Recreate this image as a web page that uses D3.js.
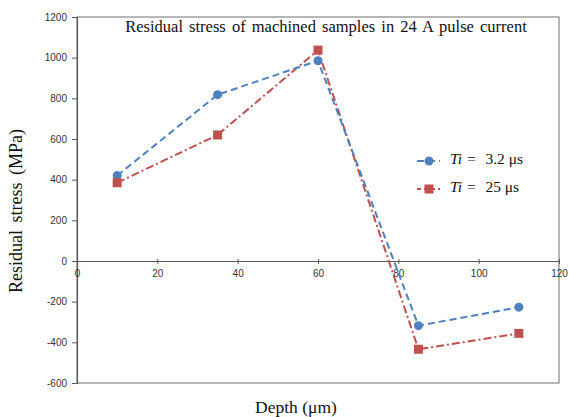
<!DOCTYPE html>
<html><head><meta charset="utf-8">
<script src="https://cdn.jsdelivr.net/npm/d3@7"></script>
<style>body{margin:0;background:#fff;}</style>
</head><body>
<script>
const depth = [10, 35, 60, 85, 110];
const ti32 = [420, 818, 985, -318, -227];
const ti25 = [385, 620, 1037, -434, -356];
const xTicks = [0, 20, 40, 60, 80, 100, 120];
const yTicks = [-600, -400, -200, 0, 200, 400, 600, 800, 1000, 1200];

const W = 569, H = 417;
const m = {l: 77, r: 10, t: 17, b: 34};
const svg = d3.select("body").append("svg").attr("width", W).attr("height", H);
const x = d3.scaleLinear().domain([0, 120]).range([m.l, 559]);
const y = d3.scaleLinear().domain([-600, 1200]).range([383, m.t]);
const fmt = d => String(d);

// plot area border
svg.append("rect").attr("x", x(0)).attr("y", y(1200)).attr("width", x(120) - x(0)).attr("height", y(-600) - y(1200))
  .attr("fill", "none").attr("stroke", "#868686").attr("stroke-width", 1.2);

// y axis
const ya = svg.append("g").attr("transform", `translate(${x(0)},0)`)
  .call(d3.axisLeft(y).tickValues(yTicks).tickSize(5).tickPadding(5).tickFormat(fmt));
ya.select(".domain").attr("stroke", "#595959").attr("stroke-width", 1.2);
ya.selectAll(".tick line").attr("stroke", "#595959");
ya.selectAll("text").attr("font-family", "Liberation Sans, Arial, sans-serif").attr("font-size", 10).attr("fill", "#333");

// x axis at y=0
const xa = svg.append("g").attr("transform", `translate(0,${y(0)})`)
  .call(d3.axisBottom(x).tickValues(xTicks).tickSizeInner(3).tickSizeOuter(0).tickPadding(6).tickFormat(fmt));
xa.select(".domain").attr("stroke", "#595959").attr("stroke-width", 1.2);
xa.selectAll(".tick line").attr("stroke", "#595959").attr("y1", -2).attr("y2", 3);
xa.selectAll("text").attr("font-family", "Liberation Sans, Arial, sans-serif").attr("font-size", 10).attr("fill", "#333");

const blue = "#4F81BD", red = "#C0504D";
const line = d3.line().x(d => x(d[0])).y(d => y(d[1]));
const bData = depth.map((d, i) => [d, ti32[i]]);
const rData = depth.map((d, i) => [d, ti25[i]]);

svg.append("path").datum(rData).attr("d", line).attr("fill", "none").attr("stroke", red)
  .attr("stroke-width", 2).attr("stroke-dasharray", "8,3,2,3");
svg.append("path").datum(bData).attr("d", line).attr("fill", "none").attr("stroke", blue)
  .attr("stroke-width", 2).attr("stroke-dasharray", "7,4");

svg.selectAll(".bm").data(bData).enter().append("circle")
  .attr("cx", d => x(d[0])).attr("cy", d => y(d[1])).attr("r", 4.5).attr("fill", blue);
svg.selectAll(".rm").data(rData).enter().append("rect")
  .attr("x", d => x(d[0]) - 4.5).attr("y", d => y(d[1]) - 4.5).attr("width", 9).attr("height", 9).attr("fill", red);

const serif = "Liberation Serif, Times New Roman, serif";
// title
svg.append("text").attr("x", 326).attr("y", 32).attr("text-anchor", "middle")
  .attr("font-family", serif).attr("font-size", 16.5).attr("fill", "#111")
  .style("word-spacing", "2px")
  .text("Residual stress of machined samples in 24 A pulse current");

// axis titles
svg.append("text").attr("transform", "translate(22,211) rotate(-90)").attr("text-anchor", "middle")
  .attr("font-family", serif).attr("font-size", 18).attr("fill", "#111").style("word-spacing", "3px")
  .text("Residual stress (MPa)");
svg.append("text").attr("x", 296).attr("y", 413).attr("text-anchor", "middle")
  .attr("font-family", serif).attr("font-size", 17.5).attr("fill", "#111")
  .text("Depth (μm)");

// legend
const leg = [
  {c: blue, dash: "7,4", shape: "circle", v: "3.2 μs", yy: 161},
  {c: red, dash: "4,3", shape: "square", v: "25 μs", yy: 189}
];
leg.forEach(l => {
  svg.append("line").attr("x1", 417).attr("x2", 440).attr("y1", l.yy).attr("y2", l.yy)
    .attr("stroke", l.c).attr("stroke-width", 2).attr("stroke-dasharray", l.dash);
  if (l.shape === "circle") svg.append("circle").attr("cx", 429).attr("cy", l.yy).attr("r", 4.5).attr("fill", l.c);
  else svg.append("rect").attr("x", 424.5).attr("y", l.yy - 4.5).attr("width", 9).attr("height", 9).attr("fill", l.c);
  const t = svg.append("text").attr("x", 450).attr("y", l.yy + 3)
    .attr("font-family", serif).attr("font-size", 15.5).attr("fill", "#111");
  t.append("tspan").attr("font-style", "italic").text("Ti =");
  t.append("tspan").attr("dx", 9).text(l.v);
});
</script>
</body></html>
